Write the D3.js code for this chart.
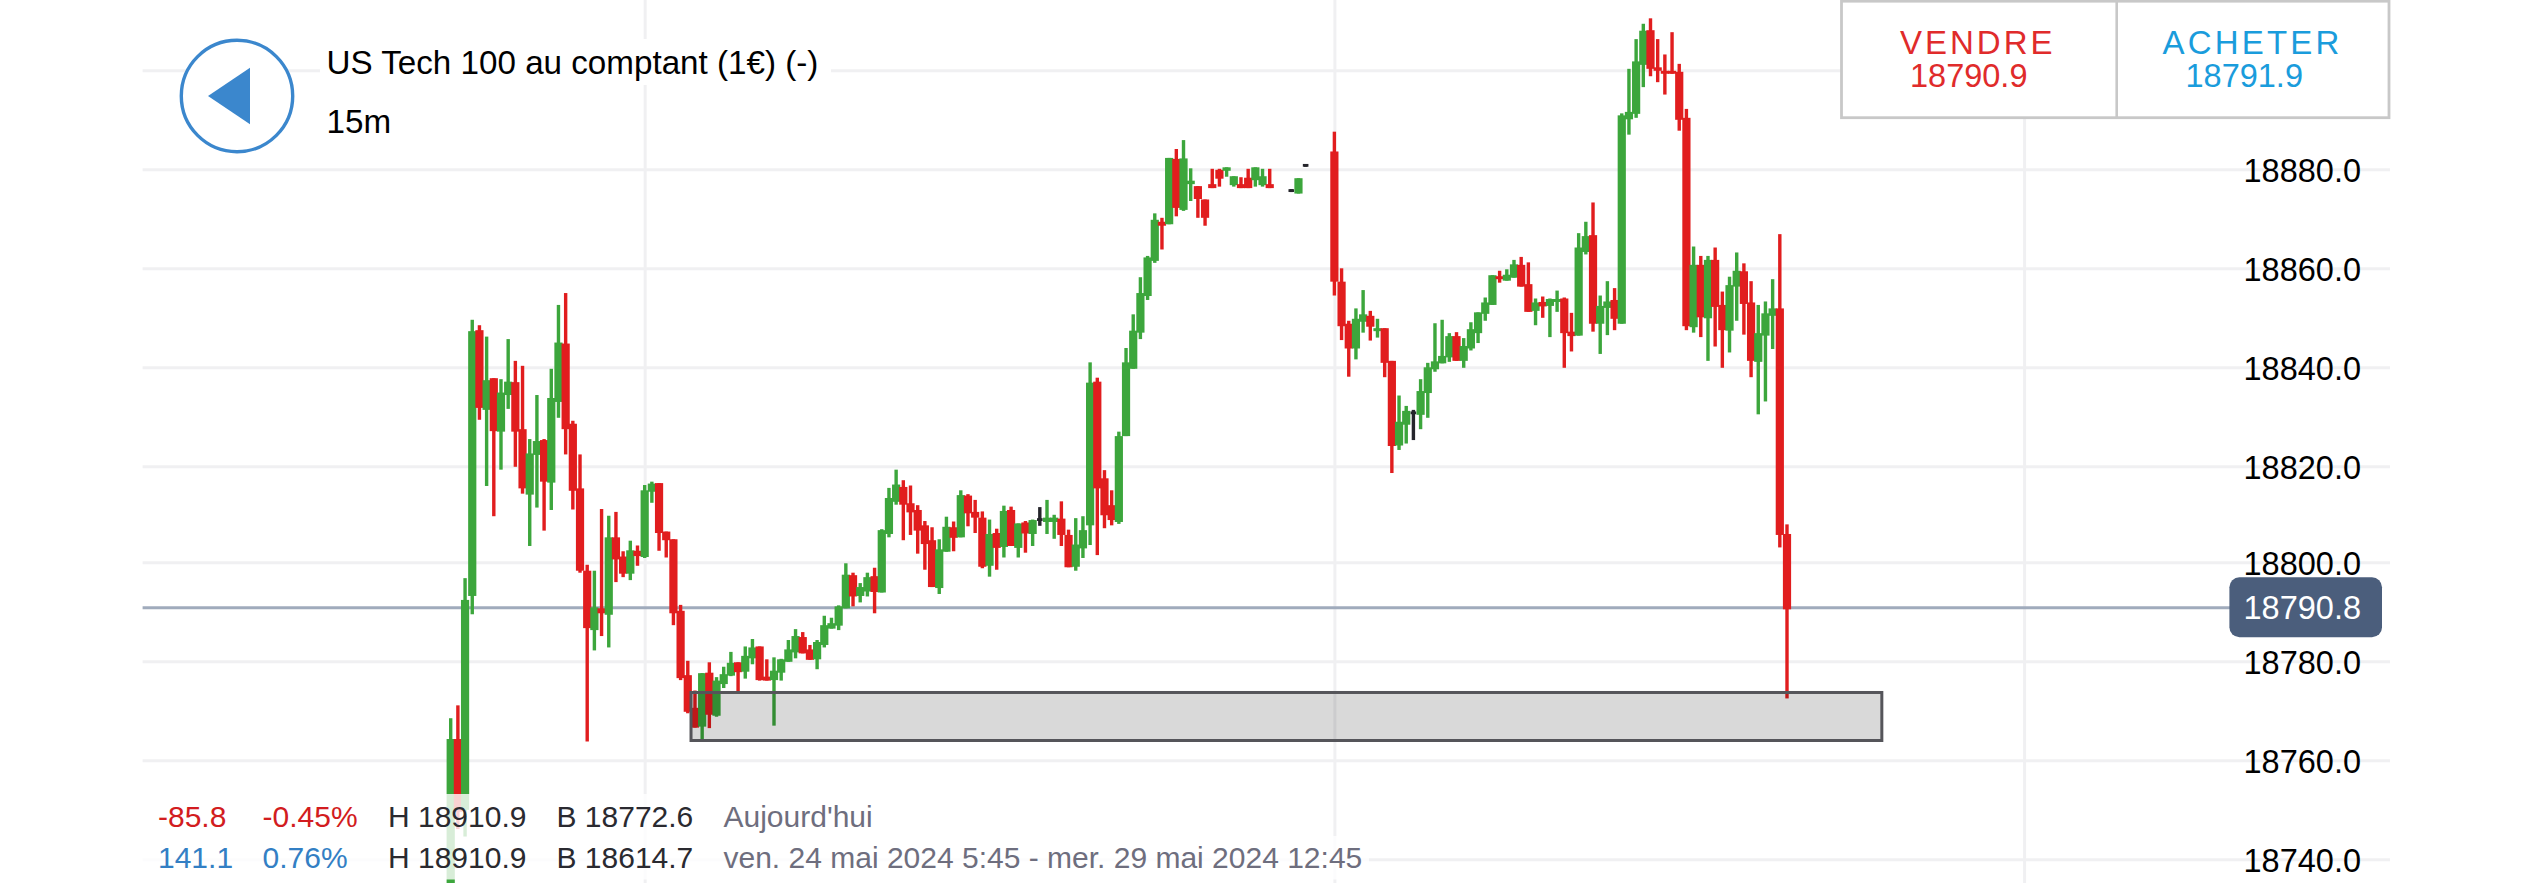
<!DOCTYPE html>
<html><head><meta charset="utf-8">
<script src="https://cdn.jsdelivr.net/npm/d3@7/dist/d3.min.js"></script>
<style>
html,body{margin:0;padding:0;background:#fff;overflow:hidden}
svg{display:block}
text{font-family:"Liberation Sans",Arial,sans-serif}
</style></head><body>
<svg id="c" width="2532" height="883"></svg>
<script>
const opens=[
18720.0,18764.3,18750.0,18793.2,18847.5,18831.4,18837.8,18827.0,18834.4,18837.0,
18827.5,18814.1,18822.3,18825.3,18816.6,18833.0,18844.8,18828.6,18815.4,18798.3,
18786.3,18790.7,18789.4,18805.2,18801.2,18797.7,18802.4,18801.1,18814.7,18816.5,
18806.4,18804.8,18790.2,18777.2,18770.6,18766.8,18777.7,18769.0,18775.4,18777.1,
18779.8,18777.9,18780.6,18783.0,18776.9,18776.2,18777.7,18779.9,18781.8,18784.9,
18782.4,18780.4,18783.3,18786.6,18787.2,18790.7,18797.4,18793.2,18794.1,18797.2,
18793.9,18805.9,18812.6,18815.7,18812.3,18810.9,18807.7,18804.6,18794.8,18802.2,
18807.3,18805.2,18813.9,18810.5,18809.3,18799.3,18806.1,18803.2,18810.9,18803.0,
18808.3,18805.9,18808.9,18808.4,18808.4,18809.1,18805.7,18799.1,18802.9,18807.7,
18837.1,18817.5,18811.9,18808.4,18826.1,18839.7,18847.0,18854.4,18861.5,18869.4,
18868.9,18882.1,18871.8,18877.0,18876.6,18873.9,18877.0,18879.9,18879.7,18876.8,
18877.0,18878.3,18877.8,18876.8,18877.0,null,null,18875.7,18875.1,18880.8,
null,null,null,18883.6,18857.3,18848.8,18843.8,18849.2,18850.4,18847.3,
18847.9,18841.3,18824.2,18828.4,18830.8,18830.4,18834.8,18839.6,18840.8,18842.0,
18846.3,18841.3,18843.8,18846.9,18850.8,18852.6,18858.4,18857.5,18858.1,18860.7,
18856.8,18851.4,18853.2,18852.4,18853.2,18853.9,18847.2,18846.4,18863.3,18866.7,
18848.8,18852.0,18853.6,18848.8,18890.1,18891.2,18901.1,18908.1,18900.6,18899.9,
18899.9,18899.7,18890.4,18848.1,18860.7,18849.9,18861.7,18852.6,18847.4,18856.3,
18859.4,18853.1,18841.1,18846.4,18850.4,18851.9,18805.9];
const closes=[
18764.3,18749.6,18792.4,18847.3,18831.8,18837.4,18827.1,18834.9,18837.1,18827.0,
18815.4,18822.6,18825.1,18816.8,18833.8,18845.0,18827.5,18814.9,18798.3,18786.7,
18790.9,18789.7,18805.2,18800.6,18797.7,18802.5,18801.3,18815.0,18816.4,18806.1,
18804.6,18789.7,18776.6,18769.8,18766.6,18777.6,18769.2,18776.1,18777.4,18779.7,
18777.8,18781.1,18782.8,18776.2,18776.1,18778.1,18780.4,18782.4,18785.1,18781.6,
18780.3,18783.9,18787.3,18787.7,18791.1,18797.5,18793.1,18795.0,18797.0,18794.0,
18806.7,18813.4,18816.2,18812.0,18810.4,18806.6,18803.8,18795.0,18802.7,18807.4,
18805.1,18814.0,18810.2,18809.3,18799.1,18805.9,18803.0,18810.7,18803.4,18808.1,
18806.0,18808.8,18808.9,18809.3,18809.3,18805.7,18799.0,18803.7,18806.7,18836.9,
18815.4,18809.8,18808.8,18826.1,18841.0,18847.4,18855.0,18862.2,18869.8,18868.6,
18882.3,18872.2,18882.2,18877.7,18874.0,18870.2,18876.2,18878.1,18880.4,18878.6,
18876.2,18876.2,18880.4,18878.6,18876.2,null,null,18875.7,18878.2,18880.8,
null,null,null,18857.3,18848.3,18843.8,18849.8,18850.7,18848.2,18847.9,
18840.9,18824.1,18829.0,18831.2,18830.8,18835.2,18840.0,18841.2,18842.3,18846.3,
18841.3,18844.3,18847.7,18851.1,18853.1,18858.6,18857.8,18858.7,18860.8,18856.3,
18851.2,18853.1,18852.3,18853.8,18853.8,18846.9,18846.3,18864.2,18866.5,18848.8,
18852.4,18853.3,18849.8,18890.9,18891.6,18901.8,18908.0,18900.3,18899.9,18899.3,
18899.3,18890.0,18848.3,18860.7,18850.1,18861.7,18852.2,18847.5,18856.6,18859.5,
18852.8,18841.3,18846.9,18850.9,18851.9,18805.7,18790.5];
const highs=[
18768.5,18771.1,18796.8,18849.6,18848.5,18846.2,18837.8,18837.6,18845.7,18841.3,
18840.3,18825.5,18834.4,18825.5,18839.7,18852.6,18855.0,18829.2,18822.4,18799.5,
18798.3,18811.1,18809.7,18810.5,18802.3,18804.5,18803.5,18816.1,18816.8,18816.5,
18806.4,18804.8,18791.4,18780.1,18774.1,18777.6,18779.8,18776.8,18778.9,18781.9,
18779.8,18783.0,18784.5,18783.0,18780.4,18780.8,18780.5,18784.3,18786.5,18785.9,
18783.3,18784.3,18789.2,18788.8,18791.3,18799.8,18797.9,18795.8,18797.9,18798.9,
18806.9,18815.5,18819.3,18817.1,18816.0,18811.9,18808.6,18807.3,18804.8,18809.5,
18808.5,18815.0,18814.2,18813.0,18810.6,18808.9,18807.0,18811.8,18811.6,18808.1,
18808.6,18808.9,18811.5,18813.0,18809.9,18812.7,18806.8,18809.2,18809.6,18841.0,
18837.9,18819.2,18815.0,18827.0,18843.9,18850.7,18858.2,18862.5,18871.1,18870.2,
18882.3,18884.1,18885.9,18880.2,18876.6,18873.9,18880.1,18880.1,18880.4,18878.6,
18878.4,18880.1,18880.4,18880.1,18880.1,null,null,18876.0,18878.2,18881.0,
null,null,null,18887.6,18860.0,18849.4,18851.9,18855.6,18851.4,18849.8,
18847.9,18841.3,18834.3,18832.2,18831.4,18837.6,18840.9,18848.9,18849.6,18846.9,
18847.1,18845.9,18849.1,18851.1,18854.1,18858.6,18859.5,18859.8,18861.7,18862.3,
18861.2,18853.9,18854.3,18853.9,18855.5,18854.1,18851.0,18867.1,18869.4,18873.3,
18854.5,18857.4,18856.0,18891.3,18900.3,18906.3,18909.4,18910.5,18906.3,18903.2,
18907.7,18901.3,18892.2,18864.4,18862.5,18862.5,18864.2,18855.3,18858.3,18863.2,
18861.0,18857.4,18852.6,18853.3,18857.8,18866.9,18807.9];
const lows=[
18715.0,18746.1,18744.6,18789.5,18829.4,18815.9,18809.6,18819.3,18831.6,18819.9,
18814.3,18803.4,18811.4,18806.6,18810.9,18829.8,18822.4,18811.0,18797.9,18763.8,
18782.2,18785.1,18782.8,18796.0,18797.0,18796.4,18799.3,18800.9,18812.4,18802.4,
18801.0,18787.3,18776.2,18769.5,18766.6,18764.3,18766.5,18768.8,18774.6,18777.0,
18773.8,18776.5,18779.4,18776.1,18776.1,18767.0,18776.1,18779.9,18780.6,18781.6,
18780.3,18778.4,18782.8,18786.6,18786.3,18790.7,18791.1,18791.9,18793.1,18789.7,
18793.9,18805.2,18812.0,18804.6,18805.7,18801.8,18798.5,18795.0,18793.6,18802.2,
18802.3,18805.2,18807.5,18806.1,18798.8,18797.1,18798.5,18801.0,18803.4,18801.0,
18802.0,18803.4,18807.6,18805.9,18804.9,18803.4,18799.0,18798.3,18800.9,18803.6,
18801.5,18807.1,18807.7,18808.0,18826.1,18839.7,18845.7,18853.6,18861.1,18863.8,
18868.9,18870.5,18871.6,18873.6,18870.2,18868.6,18876.2,18876.5,18878.5,18876.5,
18876.2,18876.2,18876.5,18876.5,18876.2,null,null,18875.4,18875.1,18880.5,
null,null,null,18854.5,18845.5,18838.1,18841.6,18847.0,18845.4,18846.0,
18838.0,18818.6,18823.3,18824.6,18825.3,18827.5,18829.8,18839.1,18840.8,18841.1,
18841.3,18839.9,18843.4,18844.9,18849.4,18852.6,18857.1,18857.5,18858.1,18856.3,
18851.2,18848.5,18850.0,18846.1,18851.2,18839.9,18843.2,18846.4,18862.8,18847.2,
18842.7,18846.5,18847.5,18848.8,18887.0,18890.4,18896.6,18898.8,18897.6,18895.1,
18899.3,18887.8,18847.5,18847.0,18846.1,18841.3,18844.2,18839.9,18843.0,18849.4,
18846.6,18838.0,18830.5,18833.1,18843.7,18803.1,18772.5];
const yTicks=[18900,18880,18860,18840,18820,18800,18780,18760,18740];
const dayTicks=[27,123,219];
const currentPrice=18790.8;
const zonePrice=[18773.7,18764.0];
const zoneSlot=[33.45,199.2];
const title="US Tech 100 au comptant (1€) (-)", period="15m";
const sell=["VENDRE","18790.9"], buy=["ACHETER","18791.9"];
const statsRows=[
 ["-85.8","-0.45%","H 18910.9","B 18772.6","Aujourd'hui"],
 ["141.1","0.76%","H 18910.9","B 18614.7","ven. 24 mai 2024 5:45 - mer. 29 mai 2024 12:45"]];

const GREEN="#3ca63c",RED="#e11d1e",BLACK="#25252b",GRID="#f0f0f2";
const svg=d3.select("#c");
svg.append("rect").attr("width",2532).attr("height",883).attr("fill","#fff");

const x=d3.scaleLinear().domain([0,186]).range([450.7,1787]);
const y=d3.scaleLinear().domain([18900,18820,18800,18740]).range([70.3,466.3,562.3,859.3]);

// vertical day grid
const xAxis=d3.axisBottom(x).tickValues(dayTicks).tickSize(883).tickFormat("");
const gx=svg.append("g").call(xAxis);
gx.select(".domain").remove();
gx.selectAll("line").attr("stroke",GRID).attr("stroke-width",3);

// horizontal price grid + labels
const yAxis=d3.axisLeft(y).tickValues(yTicks).tickSize(2247.4).tickFormat(d3.format(".1f"));
const gy=svg.append("g").attr("transform","translate(2390,0)").call(yAxis);
gy.select(".domain").remove();
gy.selectAll("line").attr("stroke",GRID).attr("stroke-width",3);
gy.selectAll("text").attr("x",-29).attr("dy",0).attr("y",12.3)
  .attr("text-anchor","end").attr("font-size",32.5).attr("fill","#000")
  .style("font-family",'"Liberation Sans",Arial,sans-serif');

// white patch behind the title
svg.append("rect").attr("x",320).attr("y",39).attr("width",511).attr("height",46).attr("fill","#fff");

// current price line
svg.append("line").attr("x1",142.6).attr("x2",2232)
  .attr("y1",y(currentPrice)).attr("y2",y(currentPrice))
  .attr("stroke","#a0abbc").attr("stroke-width",3);

// candles
const data=opens.map((o,i)=>({i,o,c:closes[i],h:highs[i],l:lows[i]})).filter(d=>d.o!==null);
const col=d=>d.c>d.o?GREEN:d.c<d.o?RED:BLACK;
const gc=svg.append("g");
gc.selectAll("rect.w").data(data).join("rect").attr("class","w")
  .attr("x",d=>x(d.i)-1.7).attr("width",3.4)
  .attr("y",d=>y(d.h)).attr("height",d=>Math.max(0.5,y(d.l)-y(d.h)))
  .attr("fill",col);
gc.selectAll("rect.b").data(data).join("rect").attr("class","b")
  .attr("x",d=>x(d.i)-(d.c===d.o?2.8:4.1)).attr("width",d=>d.c===d.o?5.6:8.2)
  .attr("y",d=>d.c===d.o?y(d.c)-1.4:Math.min(y(d.o),y(d.c)))
  .attr("height",d=>d.c===d.o?2.8:Math.abs(y(d.o)-y(d.c)))
  .attr("fill",col);

// grey zone
svg.append("rect")
  .attr("x",x(zoneSlot[0])).attr("width",x(zoneSlot[1])-x(zoneSlot[0]))
  .attr("y",y(zonePrice[0])).attr("height",y(zonePrice[1])-y(zonePrice[0]))
  .attr("fill","rgba(0,0,0,0.15)").attr("stroke","#55555a").attr("stroke-width",3);

// badge
svg.append("rect").attr("x",2229.4).attr("y",577.3).attr("width",152.6).attr("height",60)
  .attr("rx",10).attr("fill","#4b5e7c");
svg.append("text").attr("x",2361).attr("y",619.3).attr("text-anchor","end")
  .attr("font-size",32.5).attr("fill","#fff").text(d3.format(".1f")(currentPrice));

// back button
svg.append("circle").attr("cx",237).attr("cy",96).attr("r",55.7)
  .attr("fill","#fff").attr("stroke","#3b87cd").attr("stroke-width",3.4);
svg.append("path").attr("d","M208,96L250,67.7L250,124.3Z").attr("fill","#3b87cd");
svg.append("text").attr("x",326.5).attr("y",74).attr("font-size",33.2).attr("fill","#000").text(title);
svg.append("text").attr("x",326.5).attr("y",133.3).attr("font-size",33.2).attr("fill","#000").text(period);

// buy/sell box
svg.append("rect").attr("x",1841.5).attr("y",1.2).attr("width",547.5).attr("height",116.5)
  .attr("fill","#fff").attr("stroke","#c8c8c8").attr("stroke-width",2.8);
svg.append("line").attr("x1",2116.7).attr("x2",2116.7).attr("y1",1).attr("y2",118)
  .attr("stroke","#c8c8c8").attr("stroke-width",2.6);
const lab=(t,xp,yp,fs,c,ls)=>svg.append("text").attr("x",xp).attr("y",yp).attr("font-size",fs)
  .attr("fill",c).attr("letter-spacing",ls||0).text(t);
lab(sell[0],1900,54,33,"#e02b2b",3);
lab(sell[1],1910,87,32.5,"#e02b2b");
lab(buy[0],2162.5,54,33,"#1a9cdc",3.2);
lab(buy[1],2185.5,87,32.5,"#1a9cdc");

// legend overlay
svg.append("rect").attr("x",140).attr("y",794).attr("width",735).attr("height",42).attr("fill","#fff").attr("opacity",.8);
svg.append("rect").attr("x",140).attr("y",836).attr("width",1229).attr("height",43.5).attr("fill","#fff").attr("opacity",.8);
const colX=[158,262.5,388,556.5,723.5];
const rowY=[826.7,868.3];
const rowCol=["#d21c20","#337fc4"];
statsRows.forEach((row,r)=>row.forEach((t,k)=>{
  svg.append("text").attr("x",colX[k]).attr("y",rowY[r]).attr("font-size",30)
    .attr("fill",k<2?rowCol[r]:k<4?"#2a2a30":"#6e6e7e").text(t);
}));
</script>
</body></html>
